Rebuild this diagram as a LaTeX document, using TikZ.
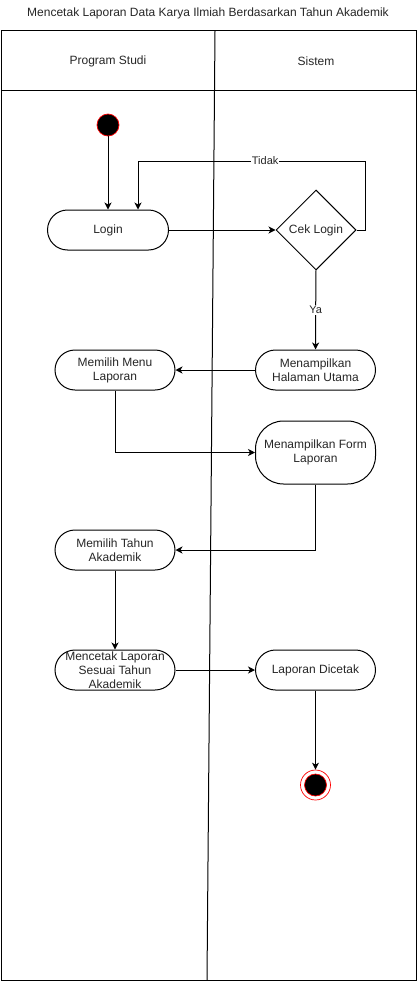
\documentclass[tikz,border=0pt]{standalone}
\usepackage{fontspec}
\setmainfont{Liberation Sans}
\usetikzlibrary{shapes.geometric,arrows.meta}

\begin{document}
\begin{tikzpicture}[x=1pt,y=-1pt,line width=1pt,
  every node/.style={font=\fontsize{12}{13.8}\selectfont,text=black!85},
  act/.style={draw,rounded corners=20pt,minimum width=120pt,minimum height=40pt,inner sep=0pt,align=center},
  flow/.style={-{Stealth[length=7pt,width=7pt,inset=2pt]}},
  lbl/.style={fill=white,inner sep=1pt,font=\fontsize{11}{13}\selectfont}]
\useasboundingbox (0,0) rectangle (417,982);
% swimlanes
\node (title) at (208,13) {Mencetak Laporan Data Karya Ilmiah Berdasarkan Tahun Akademik};
\draw (1,31) rectangle (416,980);
\draw (1,90) -- (416,90);
\draw (215,31) -- (207,980);
\node (prodi) at (108,61) {Program Studi};
\node (sistem) at (316,61) {Sistem};
% activities
\node[circle,fill=black,draw=red,line width=0.7pt,minimum size=22pt,inner sep=0pt] (start) at (108,125) {};
\node[act,minimum width=121pt] (login) at (108,230) {Login};
\node[diamond,draw,minimum width=80pt,minimum height=80pt,inner sep=0pt] (cek) at (316,230) {Cek Login};
\node[act] (halaman) at (315.5,370) {Menampilkan\\Halaman Utama};
\node[act] (menu) at (115,370) {Memilih Menu\\Laporan};
\node[act,minimum height=63pt,rounded corners=28pt] (form) at (315.5,452.5) {Menampilkan Form\\Laporan};
\node[act] (tahun) at (115,550) {Memilih Tahun\\Akademik};
\node[act] (cetak) at (115,670) {Mencetak Laporan\\Sesuai Tahun\\Akademik};
\node[act] (dicetak) at (315.5,670) {Laporan Dicetak};
\node[circle,draw=red,line width=0.7pt,minimum size=30pt,inner sep=0pt,
  path picture={\draw[red,fill=black,line width=0.7pt] (path picture bounding box.center) circle (11pt);}] (end) at (315.5,785) {};
% flows
\coordinate (loop) at (138,161);
\draw[flow] (start) -- (login);
\draw[flow] (login) -- (cek);
\draw[flow] (cek.east) -- (365,230) -- (365,161) -- node[lbl,pos=0.44] {Tidak} (loop) -- (loop |- login.north);
\draw[flow] (cek) -- node[lbl] {Ya} (halaman);
\draw[flow] (halaman) -- (menu);
\draw[flow] (menu.south) |- (form.west);
\draw[flow] (form.south) |- (tahun.east);
\draw[flow] (tahun) -- (cetak);
\draw[flow] (cetak) -- (dicetak);
\draw[flow] (dicetak) -- (end);
\end{tikzpicture}
\end{document}
